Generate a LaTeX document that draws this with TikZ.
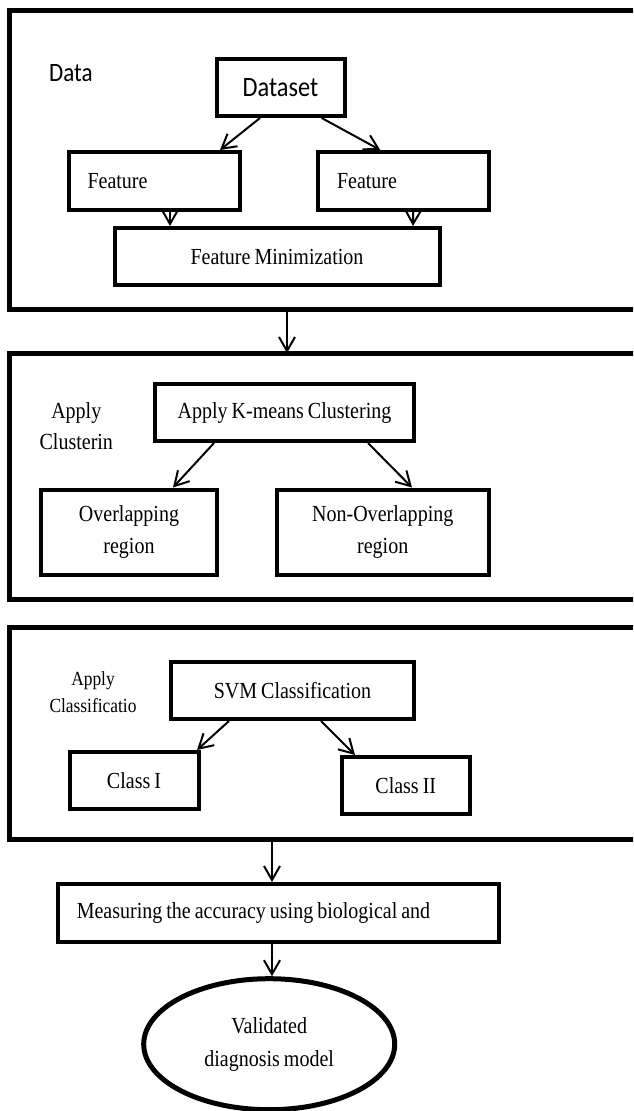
\documentclass[tikz,border=0pt]{standalone}
\usepackage{fontspec}
\setmainfont{Liberation Serif}[FakeStretch=0.87,WordSpace=0.8]
\newfontfamily\calib{Carlito}[FakeStretch=0.87,WordSpace=0.8]
\usetikzlibrary{arrows.meta,shapes.geometric}
\begin{document}
\begin{tikzpicture}[x=1pt,y=-1pt,
  frame/.style={draw, line width=5pt, anchor=north west, inner sep=0pt, outer sep=0pt},
  box/.style={draw, line width=4pt, inner sep=0pt, font=\fontsize{23}{32}\selectfont, align=center},
  lbox/.style={box, align=left, inner xsep=19pt},
  arr/.style={line width=2pt, -{Straight Barb[length=14pt,width=16pt,line width=2pt]}},
  lbl/.style={align=center, inner sep=0pt}
]
\useasboundingbox (0,0) rectangle (633,1111);
\clip (0,0) rectangle (633,1111);

% frames
\node[frame, minimum width=660pt, minimum height=299pt] (f1) at (9.5,10) {};
\node[frame, minimum width=660pt, minimum height=246pt] (f2) at (9,353) {};
\node[frame, minimum width=660pt, minimum height=211.5pt] (f3) at (9,627.5) {};

% section 1
\node[lbl, anchor=west, font=\calib\fontsize{26.5}{32}\selectfont] (data) at (49,73.5) {Data};
\node[box, font=\calib\fontsize{28}{34}\selectfont, minimum width=128pt, minimum height=57pt] (ds) at (280.5,87.5) {Dataset};
\node[lbox, text width=133pt, minimum width=171pt, minimum height=58pt] (fl) at (154,181) {Feature};
\node[lbox, text width=132.5pt, minimum width=170.5pt, minimum height=58pt] (fr) at (403.25,181) {Feature};
\node[box, minimum width=325pt, minimum height=57pt] (fm) at (277,256.5) {Feature Minimization};

% section 2
\node[lbl, font=\fontsize{23}{31}\selectfont] (clu) at (76.3,425.7) {Apply\\Clusterin};
\node[box, minimum width=259pt, minimum height=57pt] (km) at (284.5,412.5) {Apply K-means Clustering};
\node[box, minimum width=176pt, minimum height=85pt] (ov) at (129,532) {Overlapping\\region};
\node[box, minimum width=211.5pt, minimum height=85pt] (nov) at (382.75,532) {Non-Overlapping\\region};

% section 3
\node[lbl, font=\fontsize{20}{27}\selectfont] (cla) at (93,692.5) {Apply\\Classificatio};
\node[box, minimum width=243pt, minimum height=57pt] (svm) at (292.5,690.5) {SVM Classification};
\node[box, minimum width=129pt, minimum height=57pt] (c1) at (134,780.5) {Class I};
\node[box, minimum width=128.5pt, minimum height=57pt] (c2) at (405.75,785.5) {Class II};

% bottom
\node[box, minimum width=441pt, minimum height=57.5pt] (meas) at (278,912.75) {\hspace*{19pt}Measuring the accuracy using biological and\hspace*{68pt}};
\node[draw, ellipse, line width=5pt, inner sep=0pt, minimum width=251pt, minimum height=131pt, align=center, font=\fontsize{23}{33}\selectfont] (ell) at (269.2,1044.2) {Validated\\diagnosis model};

% coordinates for frame arrows
\coordinate (a1) at (287,0);
\coordinate (a3) at (272,0);

% connectors
\draw[arr] ([xshift=-20.5pt]ds.south) -- ([xshift=66pt]fl.north);
\draw[arr] ([xshift=41.2pt]ds.south) -- ([xshift=-23pt]fr.north);
\draw[arr] ([xshift=16pt]fl.south) -- ([xshift=-107pt]fm.north);
\draw[arr] ([xshift=10pt]fr.south) -- ([xshift=136pt]fm.north);
\draw[arr] (f1.south -| a1) -- (f2.north -| a1);
\draw[arr] ([xshift=-70.5pt]km.south) -- ([xshift=44pt]ov.north);
\draw[arr] ([xshift=83.5pt]km.south) -- ([xshift=29.25pt]nov.north);
\draw[arr] ([xshift=-63.5pt]svm.south) -- ([xshift=63pt]c1.north);
\draw[arr] ([xshift=28.5pt]svm.south) -- ([xshift=-50.75pt]c2.north);
\draw[arr] (f3.south -| a3) -- (meas.north -| a3);
\draw[arr] (meas.south -| a3) -- (ell.north -| a3);
\end{tikzpicture}
\end{document}
